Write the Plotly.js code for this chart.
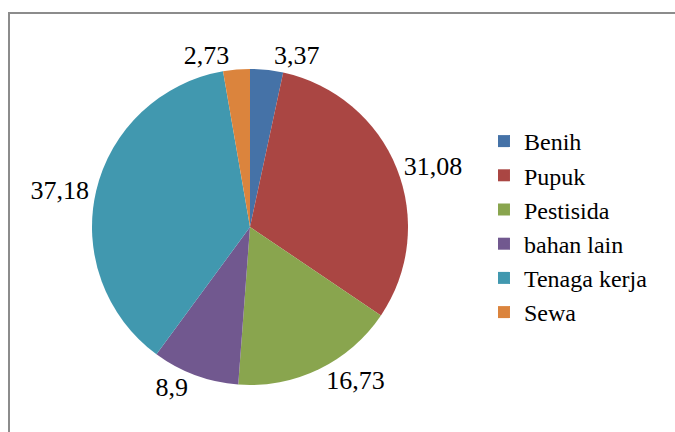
<!DOCTYPE html>
<html>
<head>
<meta charset="utf-8">
<script src="https://cdn.plot.ly/plotly-3.0.1.min.js"></script>
<style>
  html, body { margin: 0; padding: 0; background: #fff; }
  #wrap { position: relative; width: 675px; height: 432px; overflow: hidden; }
  #frame { position: absolute; left: 8px; top: 12px; width: 700px; height: 500px;
           border-top: 2px solid #8c8c8c; border-left: 2px solid #8c8c8c; pointer-events: none; }
  #chart { position: absolute; left: 0; top: 0; width: 675px; height: 432px; }
</style>
</head>
<body>
<div id="wrap">
  <div id="chart"></div>
  <div id="frame"></div>
</div>
<script>
const categories = ["Benih", "Pupuk", "Pestisida", "bahan lain", "Tenaga kerja", "Sewa"];
const values = [3.37, 31.08, 16.73, 8.9, 37.18, 2.73];
const colors = ["#4572A7", "#AA4643", "#89A54E", "#71588F", "#4198AF", "#DB843D"];

const SERIF = 'Liberation Serif';

const trace = {
  type: 'pie',
  labels: categories,
  values: values,
  sort: false,
  direction: 'clockwise',
  rotation: 0,
  marker: { colors: colors, line: { width: 0 } },
  textposition: 'outside',
  texttemplate: '%{value}',
  outsidetextfont: { family: SERIF, size: 26, color: '#000' },
  hoverinfo: 'label+value',
  domain: { x: [92/675, 408/675], y: [0, 1] },
  automargin: false
};

const layout = {
  width: 675, height: 432,
  margin: { l: 0, r: 0, t: 69, b: 47 },
  separators: ',.',
  paper_bgcolor: '#fff',
  showlegend: true,
  legend: {
    x: 0.717, xanchor: 'left', y: 0.5, yanchor: 'middle',
    font: { family: SERIF, size: 24, color: '#000' },
    itemwidth: 30
  },
  font: { family: SERIF }
};

function draw() {
  return Plotly.newPlot('chart', [trace], layout, { displayModeBar: false });
}
if (document.fonts && document.fonts.load) {
  document.fonts.load('24px "Liberation Serif"').then(draw, draw);
} else {
  draw();
}
</script>
</body>
</html>
